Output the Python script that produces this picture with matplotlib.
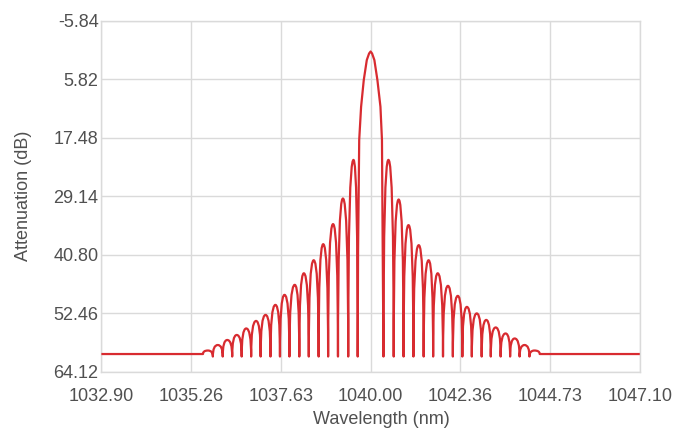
import matplotlib
matplotlib.use("Agg")
import matplotlib.pyplot as plt
from matplotlib.path import Path
from matplotlib.patches import PathPatch

# ticks as printed on the chart
wl_ticks = [1032.90, 1035.26, 1037.63, 1040.00, 1042.36, 1044.73, 1047.10]
att_ticks = [-5.84, 5.82, 17.48, 29.14, 40.80, 52.46, 64.12]

# flat floor outside the band, and depth of the nulls between lobes
floor_db = 60.6
null_db = 61.1

# left side lobes, outermost first
left_nulls = [1035.58, 1035.84, 1036.10, 1036.35, 1036.60, 1036.85, 1037.10, 1037.36, 1037.61,
              1037.86, 1038.12, 1038.37, 1038.63, 1038.88, 1039.14, 1039.41, 1039.66]
left_peak_nm = [1035.71, 1035.97, 1036.22, 1036.47, 1036.72, 1036.98, 1037.23, 1037.49,
                1037.73, 1038.00, 1038.24, 1038.50, 1038.75, 1039.01, 1039.27, 1039.55]
left_peak_db = [59.9, 58.8, 57.8, 56.8, 55.5, 54.0, 52.8, 50.8,
                48.8, 46.8, 44.5, 41.9, 38.7, 34.7, 29.6, 21.9]

# main lobe
main_nm = [1039.67, 1039.70, 1039.75, 1039.82, 1039.90, 1039.96, 1040.00,
           1040.04, 1040.10, 1040.18, 1040.26, 1040.30, 1040.32]
main_db = [40.0, 17.9, 11.3, 6.0, 2.0, 0.7, 0.3, 0.7, 2.0, 6.0, 11.3, 17.9, 40.0]

# right side lobes, innermost first
right_nulls = [1040.34, 1040.61, 1040.87, 1041.13, 1041.40, 1041.65, 1041.91, 1042.17, 1042.42,
               1042.67, 1042.93, 1043.17, 1043.43, 1043.68, 1043.93, 1044.19, 1044.46]
right_peak_nm = [1040.47, 1040.74, 1041.00, 1041.27, 1041.53, 1041.77, 1042.04, 1042.30,
                 1042.54, 1042.80, 1043.05, 1043.30, 1043.56, 1043.80, 1044.06, 1044.32]
right_peak_db = [21.9, 29.8, 34.9, 38.9, 41.9, 44.5, 47.0, 49.0,
                 51.2, 52.5, 53.8, 55.3, 56.5, 57.5, 58.8, 59.9]

red = "#d82b30"
grid_col = "#dadada"
text_col = "#505050"

plt.rcParams["font.family"] = ["Liberation Sans", "DejaVu Sans"]
plt.rcParams["font.size"] = 13

fig = plt.figure(figsize=(6.85, 4.36), dpi=100)
ax = fig.add_axes([0.148, 0.1475, 0.786, 0.805])

verts = [(wl_ticks[0], floor_db), (left_nulls[0], floor_db)]
codes = [Path.MOVETO, Path.LINETO]


def add_lobe(n0, px, py, n1, y1):
    # arch: rises straight up from the null, flat at the peak
    verts.extend([(n0, py), (px, py), (n1, py), (n1, y1)])
    codes.extend([Path.CURVE3] * 4)


for i in range(len(left_peak_nm)):
    add_lobe(left_nulls[i], left_peak_nm[i], left_peak_db[i], left_nulls[i + 1], null_db)

for x, y in zip(main_nm, main_db):
    verts.append((x, y))
    codes.append(Path.LINETO)
verts.append((right_nulls[0], null_db))
codes.append(Path.LINETO)

for i in range(len(right_peak_nm)):
    end = floor_db if i == len(right_peak_nm) - 1 else null_db
    add_lobe(right_nulls[i], right_peak_nm[i], right_peak_db[i], right_nulls[i + 1], end)

verts.append((wl_ticks[-1], floor_db))
codes.append(Path.LINETO)

ax.add_patch(PathPatch(Path(verts, codes), fill=False, edgecolor=red, lw=1.6,
                       joinstyle="round", zorder=3))

ax.set_xlim(wl_ticks[0], wl_ticks[-1])
ax.set_ylim(att_ticks[-1], att_ticks[0])
ax.set_xticks(wl_ticks)
ax.set_xticklabels(["%.2f" % v for v in wl_ticks])
ax.set_yticks(att_ticks)
ax.set_yticklabels(["%.2f" % v for v in att_ticks])

ax.grid(True, color=grid_col, lw=1)
for s in ax.spines.values():
    s.set_color(grid_col)
    s.set_linewidth(1)
ax.tick_params(axis="x", length=0, pad=12, colors=text_col)
ax.tick_params(axis="y", length=0, pad=2, colors=text_col)

ax.set_xlabel("Wavelength (nm)", color=text_col)
ax.set_ylabel("Attenuation (dB)", color=text_col)
ax.xaxis.set_label_coords(0.52, -0.112)
ax.yaxis.set_label_coords(-0.128, 0.5)

fig.savefig("out.png", dpi=100)
